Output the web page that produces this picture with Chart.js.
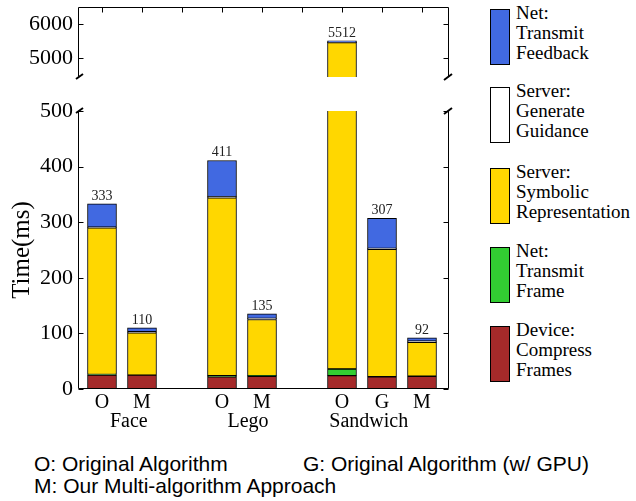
<!DOCTYPE html>
<html>
<head>
<meta charset="utf-8">
<script src="https://cdn.jsdelivr.net/npm/chart.js@4.4.1/dist/chart.umd.min.js"></script>
<style>
body { margin:0; background:#fff; width:636px; height:501px; overflow:hidden; position:relative; font-family:"Liberation Serif", serif; }
#arribaWrap { position:absolute; left:0; top:0; width:460px; height:84px; }
#abajoWrap { position:absolute; left:0; top:100px; width:460px; height:340px; }
#leyenda { position:absolute; left:490px; top:0; width:146px; height:400px; }
.caja { position:absolute; left:0; width:20px; height:56px; box-sizing:border-box; border:1px solid #000; }
.texto { position:absolute; left:26px; font-size:19px; line-height:20px; white-space:nowrap; color:#000; }
.nota { position:absolute; font-family:"Liberation Sans", Arial, sans-serif; font-size:21px; line-height:21px; white-space:nowrap; color:#000; }
</style>
</head>
<body>
<div id="arribaWrap"><canvas id="graficoArriba"></canvas></div>
<div id="abajoWrap"><canvas id="graficoAbajo"></canvas></div>
<div id="leyenda"></div>
<div class="nota" style="left:34px; top:453px;">O: Original Algorithm</div>
<div class="nota" style="left:303px; top:453px;">G: Original Algorithm (w/ GPU)</div>
<div class="nota" style="left:34px; top:475px;">M: Our Multi-algorithm Approach</div>
<script>
// DATOS:
const categorias = ["O", "M", "", "O", "M", "", "O", "G", "M"];
const grupos = ["Face", "Lego", "Sandwich"];
const posGrupos = [0.67, 3.65, 6.67];

const comprimir = [25, 25, null, 22, 23, null, 24, 22, 23];
const transmitirFrame = [1, 0, null, 2, 1, null, 12, 0, 0];
const simbolica = [264, 76, null, 320, 101, null, 5420, 229, 61];
const guia = [1, 2, null, 2, 2, null, 2, 2, 2];
const feedback = [42, 7, null, 65, 8, null, 54, 54, 6];
const totales = [333, 110, null, 411, 135, null, 5512, 307, 92];

const ticksArriba = [5000, 6000];
const ticksAbajo = [0, 100, 200, 300, 400, 500];

const series = [
    { nombre: ["Device:", "Compress", "Frames"], color: "#A52A2A", valores: comprimir },
    { nombre: ["Net:", "Transmit", "Frame"], color: "#32CD32", valores: transmitirFrame },
    { nombre: ["Server:", "Symbolic", "Representation"], color: "#FFD700", valores: simbolica },
    { nombre: ["Server:", "Generate", "Guidance"], color: "#FFFFFF", valores: guia },
    { nombre: ["Net:", "Transmit", "Feedback"], color: "#4169E1", valores: feedback }
];

function armarDatasets() {
    return series.map(function(s) {
        return {
            label: s.nombre.join(" "),
            data: s.valores.map((v, i) => ({ x: i, y: v })).filter(p => p.y !== null),
            backgroundColor: s.color,
            borderColor: "#000",
            borderWidth: 1,
            borderSkipped: false,
            barThickness: 29
        };
    });
}

// PLUGINS:
const marcoPlugin = {
    id: "marco",
    afterDraw(chart, args, opts) {
        const ctx = chart.ctx;
        const a = chart.chartArea;
        const sx = chart.scales.x, sy = chart.scales.y;
        const L = Math.round(a.left) + 0.5, R = Math.round(a.right) - 0.5;
        const T = Math.round(a.top) + 0.5, B = Math.round(a.bottom) - 0.5;
        ctx.save();
        ctx.strokeStyle = "#000";
        ctx.lineWidth = 1;
        ctx.beginPath();
        ctx.moveTo(L, T); ctx.lineTo(L, B);
        ctx.moveTo(R, T); ctx.lineTo(R, B);
        if (opts.arriba) { ctx.moveTo(L, T); ctx.lineTo(R, T); }
        else { ctx.moveTo(L, B); ctx.lineTo(R, B); }
        sy.ticks.forEach(function(t) {
            const y = Math.round(sy.getPixelForValue(t.value)) + 0.5;
            ctx.moveTo(L, y); ctx.lineTo(L + 5, y);
            ctx.moveTo(R, y); ctx.lineTo(R - 5, y);
        });
        if (opts.arriba) {
            categorias.forEach(function(c, i) {
                const x = Math.round(sx.getPixelForValue(i)) + 0.5;
                ctx.moveTo(x, T); ctx.lineTo(x, T + 5);
            });
        }
        ctx.stroke();
        // marcas de corte
        ctx.lineWidth = 2;
        ctx.beginPath();
        const yc = opts.arriba ? a.bottom : a.top;
        ctx.moveTo(a.left - 2, yc + 2); ctx.lineTo(a.left + 5, yc - 3);
        ctx.moveTo(a.right - 5, yc + 3); ctx.lineTo(a.right + 3, yc - 3);
        ctx.stroke();
        ctx.restore();
    }
};

const totalesPlugin = {
    id: "totales",
    afterDatasetsDraw(chart) {
        const ctx = chart.ctx;
        const a = chart.chartArea;
        const sx = chart.scales.x, sy = chart.scales.y;
        ctx.save();
        ctx.font = "14px 'Liberation Serif'";
        ctx.fillStyle = "#222";
        ctx.textAlign = "center";
        ctx.textBaseline = "alphabetic";
        totales.forEach(function(t, i) {
            if (t === null) return;
            const y = sy.getPixelForValue(t);
            if (y < a.top || y > a.bottom) return;
            ctx.fillText(String(t), sx.getPixelForValue(i), y - 4);
        });
        ctx.restore();
    }
};

const gruposPlugin = {
    id: "grupos",
    afterDraw(chart, args, opts) {
        if (!opts.mostrar) return;
        const ctx = chart.ctx;
        const sx = chart.scales.x;
        ctx.save();
        ctx.font = "20px 'Liberation Serif'";
        ctx.fillStyle = "#000";
        ctx.textAlign = "center";
        ctx.textBaseline = "alphabetic";
        grupos.forEach(function(g, i) {
            ctx.fillText(g, sx.getPixelForValue(posGrupos[i]), chart.chartArea.bottom + 38);
        });
        ctx.restore();
    }
};

function sinRelleno(scale) {
    scale.paddingTop = 0;
    scale.paddingBottom = 0;
    scale.paddingLeft = 0;
    scale.paddingRight = 0;
}

function escalaX(visible) {
    return {
        type: "linear",
        display: visible,
        stacked: true,
        offset: false,
        min: -0.6,
        max: 8.675,
        afterBuildTicks: function(scale) {
            scale.ticks = categorias.map((c, i) => ({ value: i }));
        },
        afterFit: function(scale) {
            if (visible) scale.height = 51;
            sinRelleno(scale);
        },
        grid: { display: false, drawTicks: false },
        border: { display: false },
        ticks: {
            autoSkip: false,
            maxRotation: 0,
            padding: 2,
            color: "#000",
            font: { family: "Liberation Serif", size: 20 },
            callback: function(v) { return categorias[v] || ""; }
        }
    };
}

function escalaY(min, max, lista, conTitulo) {
    return {
        stacked: true,
        min: min,
        max: max,
        afterBuildTicks: function(scale) {
            scale.ticks = lista.map(v => ({ value: v }));
        },
        afterFit: function(scale) {
            scale.width = 78;
            sinRelleno(scale);
        },
        grid: { display: false, drawTicks: false },
        border: { display: false },
        title: {
            display: conTitulo,
            text: "Time(ms)",
            color: "#000",
            font: { family: "Liberation Serif", size: 25 },
            padding: { top: 7, bottom: 7 }
        },
        ticks: {
            padding: 5,
            color: "#000",
            font: { family: "Liberation Serif", size: 22 },
            callback: function(v) { return String(v); }
        }
    };
}

function crearGrafico(id, arriba) {
    const ctx = document.getElementById(id).getContext("2d");
    return new Chart(ctx, {
        type: "bar",
        data: { datasets: armarDatasets() },
        options: {
            responsive: true,
            maintainAspectRatio: false,
            animation: false,
            layout: {
                padding: arriba ? { top: 7, bottom: 7, left: 0, right: 11 } : { top: 11, bottom: 0, left: 0, right: 11 }
            },
            scales: {
                x: escalaX(!arriba),
                y: arriba ? escalaY(4450, 6500, ticksArriba, false) : escalaY(0, 500, ticksAbajo, true)
            },
            plugins: {
                legend: { display: false },
                tooltip: { enabled: false },
                marco: { arriba: arriba },
                grupos: { mostrar: !arriba }
            }
        },
        plugins: [marcoPlugin, totalesPlugin, gruposPlugin]
    });
}

crearGrafico("graficoArriba", true);
crearGrafico("graficoAbajo", false);

// LEYENDA:
const leyenda = document.getElementById("leyenda");
const topesCaja = [9, 87, 168, 247, 326];
series.slice().reverse().forEach(function(s, i) {
    leyenda.innerHTML += `
        <div class="caja" style="top:${topesCaja[i]}px; background:${s.color};"></div>
        <div class="texto" style="top:${topesCaja[i] - 6}px;">${s.nombre.join("<br>")}</div>
    `;
});
</script>
</body>
</html>
